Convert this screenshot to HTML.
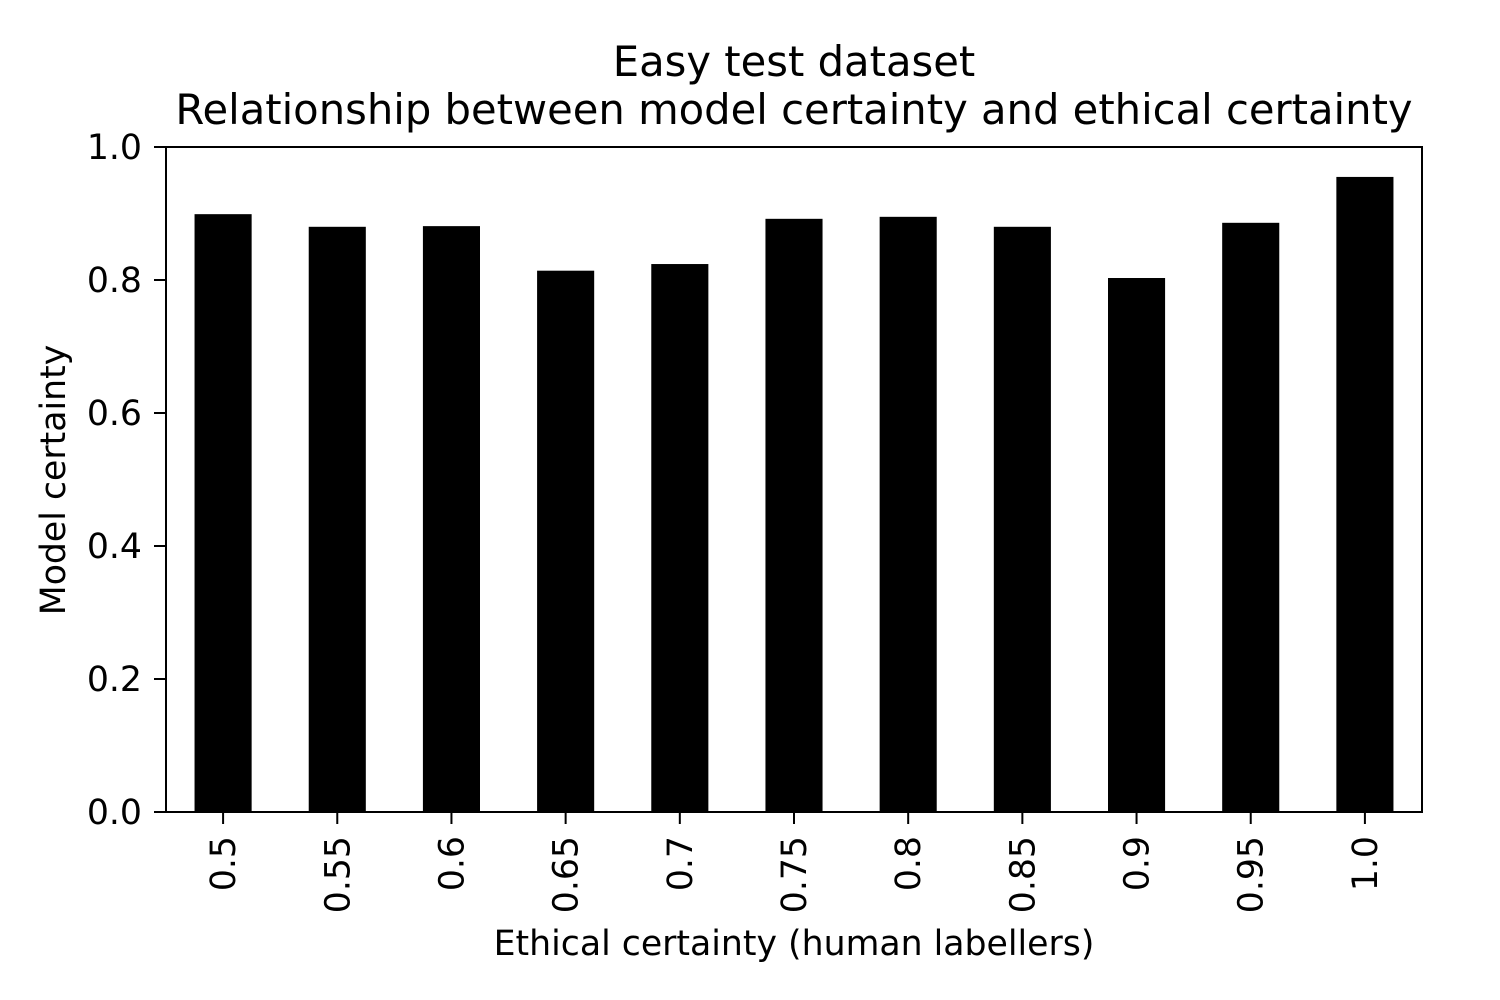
<!DOCTYPE html>
<html><head><meta charset="utf-8"><style>
body{margin:0;background:#fff;}
svg{display:block;font-family:"DejaVu Sans","Liberation Sans",sans-serif;}
</style></head><body>
<svg id="chart" width="1500" height="1000" viewBox="0 0 1500 1000">
<text x="794" y="76" font-size="41.7" text-anchor="middle">Easy test dataset</text>
<text x="794" y="124" font-size="41.7" text-anchor="middle">Relationship between model certainty and ethical certainty</text>
<g id="bars"></g>
<g id="yticks"></g>
<g id="xticks"></g>
<rect x="166" y="147" width="1256" height="665" fill="none" stroke="#000" stroke-width="2"/>
<text x="794" y="955" font-size="34.7" text-anchor="middle">Ethical certainty (human labellers)</text>
<text transform="translate(65,480) rotate(-90)" font-size="34.7" text-anchor="middle">Model certainty</text>
</svg>
<script>
const categories = ["0.5","0.55","0.6","0.65","0.7","0.75","0.8","0.85","0.9","0.95","1.0"];
const values = [0.899,0.880,0.881,0.814,0.824,0.892,0.895,0.880,0.803,0.886,0.955];
const yTickLabels = ["0.0","0.2","0.4","0.6","0.8","1.0"];
const yTickValues = [0,0.2,0.4,0.6,0.8,1.0];

const NS="http://www.w3.org/2000/svg";
const plotLeft=166,plotRight=1422,plotTop=147,plotBottom=812;
const n=categories.length;
const step=(plotRight-plotLeft)/n;
function xScale(i){return plotLeft+step*(i+0.5);}
function yScale(v){return plotBottom-(plotBottom-plotTop)*v;}
const bars=document.getElementById('bars');
values.forEach((v,i)=>{
  const r=document.createElementNS(NS,'rect');
  const w=step*0.5;
  r.setAttribute('x',xScale(i)-w/2);
  r.setAttribute('y',yScale(v));
  r.setAttribute('width',w);
  r.setAttribute('height',yScale(0)-yScale(v));
  r.setAttribute('fill','#000');
  
  
  bars.appendChild(r);
});
const yg=document.getElementById('yticks');
yTickValues.forEach((v,i)=>{
  const y=yScale(v);
  const l=document.createElementNS(NS,'line');
  l.setAttribute('x1',plotLeft-12);l.setAttribute('x2',plotLeft);
  l.setAttribute('y1',y);l.setAttribute('y2',y);
  l.setAttribute('stroke','#000');l.setAttribute('stroke-width','2');
  
  
  yg.appendChild(l);
  const t=document.createElementNS(NS,'text');
  t.setAttribute('x',plotLeft-24);t.setAttribute('y',y+12);
  t.setAttribute('font-size','34.7');t.setAttribute('text-anchor','end');
  t.textContent=yTickLabels[i];
  
  
  yg.appendChild(t);
});
const xg=document.getElementById('xticks');
categories.forEach((c,i)=>{
  const x=xScale(i);
  const l=document.createElementNS(NS,'line');
  l.setAttribute('x1',x);l.setAttribute('x2',x);
  l.setAttribute('y1',plotBottom);l.setAttribute('y2',plotBottom+12);
  l.setAttribute('stroke','#000');l.setAttribute('stroke-width','2');
  
  
  xg.appendChild(l);
  const t=document.createElementNS(NS,'text');
  t.setAttribute('transform','translate('+(x+12)+','+(plotBottom+24)+') rotate(-90)');
  t.setAttribute('font-size','34.7');t.setAttribute('text-anchor','end');
  t.textContent=c;
  
  
  xg.appendChild(t);
});
</script>
</body></html>
